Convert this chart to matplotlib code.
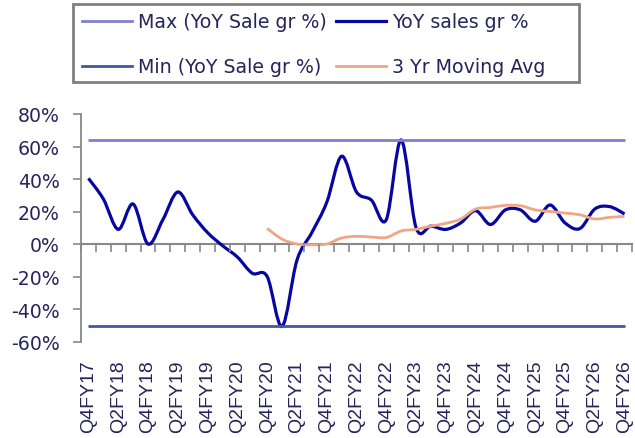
import numpy as np
import matplotlib
matplotlib.use('Agg')
import matplotlib.pyplot as plt
from matplotlib.path import Path
from matplotlib.patches import PathPatch, Rectangle
from matplotlib.lines import Line2D

# quarters Q4FY17 .. Q4FY26
quarters = []
for fy in range(17, 27):
    for q in (1, 2, 3, 4):
        if (fy == 17 and q < 4):
            continue
        quarters.append('Q%dFY%d' % (q, fy))
quarters = quarters[:37]

yoy = [40.4, 27.7, 9.0, 24.6, 0.0, 15.0, 32.0, 18.0, 7.0, -1.0, -8.0, -18.0,
       -20.0, -50.7, -10.0, 7.0, 25.6, 54.0, 32.0, 27.0, 15.0, 64.0, 10.0, 11.0,
       9.0, 13.0, 20.5, 12.0, 21.0, 21.0, 14.0, 24.0, 13.0, 9.5, 21.5, 23.0, 18.5]

mov_avg = [None] * 12 + [9.6, 3.0, 0.0, -0.5, 0.0, 3.7, 4.7, 4.3, 4.0, 8.0, 9.0, 11.0,
                         12.7, 15.4, 21.5, 22.5, 23.8, 23.6, 21.0, 20.0, 19.0, 18.0,
                         15.4, 16.4, 17.0]

max_val = 63.8
min_val = -50.5

c_max = '#8080d0'
c_yoy = '#0606a0'
c_min = '#3d5aa0'
c_ma = '#f0a585'
c_txt = '#25255a'
c_axis = '#888888'


def smooth_path(xs, ys):  # excel style smoothed line as bezier segments
    xs, ys = np.asarray(xs, float), np.asarray(ys, float)
    n = len(xs)
    verts = [(xs[0], ys[0])]
    codes = [Path.MOVETO]
    for i in range(n - 1):
        p0 = np.array([xs[max(i - 1, 0)], ys[max(i - 1, 0)]])
        p1 = np.array([xs[i], ys[i]])
        p2 = np.array([xs[i + 1], ys[i + 1]])
        p3 = np.array([xs[min(i + 2, n - 1)], ys[min(i + 2, n - 1)]])
        c1 = p1 + (p2 - p0) / 6.
        c2 = p2 - (p3 - p1) / 6.
        verts += [tuple(c1), tuple(c2), tuple(p2)]
        codes += [Path.CURVE4] * 3
    return Path(verts, codes)


W, H = 635, 439
fig = plt.figure(figsize=(W / 100, H / 100), dpi=100)
ax = fig.add_axes([81 / W, 1 - 342.5 / H, 551 / W, 227.5 / H])

x = np.arange(len(quarters))
ax.plot(x, [max_val] * len(x), color=c_max, lw=2.0, solid_capstyle='butt')
ax.plot(x, [min_val] * len(x), color=c_min, lw=2.0, solid_capstyle='butt')

ax.add_patch(PathPatch(smooth_path(x, yoy), fill=False, edgecolor=c_yoy, lw=2.3))
ma_x = [i for i in x if mov_avg[i] is not None]
ma_y = [mov_avg[i] for i in ma_x]
ax.add_patch(PathPatch(smooth_path(ma_x, ma_y), fill=False, edgecolor=c_ma, lw=2.0))

ax.set_xlim(-0.5, len(x) - 0.5)
ax.set_ylim(-60, 80)
ax.set_yticks(range(-60, 81, 20))
ax.set_yticklabels(['%d%%' % v for v in range(-60, 81, 20)])

for s in ['top', 'right']:
    ax.spines[s].set_visible(False)
ax.spines['left'].set_color(c_axis)
ax.spines['left'].set_linewidth(1.3)
ax.spines['bottom'].set_position(('data', 0))
ax.spines['bottom'].set_color(c_axis)
ax.spines['bottom'].set_linewidth(1.5)
ax.spines['bottom'].set_zorder(0.5)

ax.set_xticks(np.arange(-0.5, len(x), 1.0))
ax.tick_params(axis='x', direction='out', length=5.5, width=1.2, color=c_axis, labelbottom=False)
ax.tick_params(axis='y', direction='out', length=6, width=1.2, color=c_axis, pad=9.5,
               labelsize=13.6, labelcolor=c_txt)

sec = ax.secondary_xaxis('bottom')
sec.set_xticks(x[::2])
sec.set_xticklabels(quarters[::2], rotation=90, family='Liberation Sans', fontsize=14, color=c_txt)
sec.tick_params(length=0, pad=13)
sec.spines['bottom'].set_visible(False)

handles = [Line2D([], [], color=c_max, lw=2), Line2D([], [], color=c_min, lw=2),
           Line2D([], [], color=c_yoy, lw=2.3), Line2D([], [], color=c_ma, lw=2)]
labels = ['Max (YoY Sale gr %)', 'Min (YoY Sale gr %)', 'YoY sales gr %', '3 Yr Moving Avg']
leg = fig.legend(handles, labels, ncol=2, loc='upper left', bbox_to_anchor=(82 / W, 1 - 13.5 / H),
                 fontsize=13.65, frameon=False, handlelength=2.64, handletextpad=0.32,
                 columnspacing=0.47, labelspacing=1.37, borderpad=0, borderaxespad=0)
for t in leg.get_texts():
    t.set_color(c_txt)
# legend box as drawn in the source (wider than its entries)
fig.add_artist(Rectangle((73 / W, 1 - 83 / H), 506 / W, 78 / H, transform=fig.transFigure,
                         fill=False, edgecolor='#808080', lw=2))

fig.savefig('out.png', dpi=100)
